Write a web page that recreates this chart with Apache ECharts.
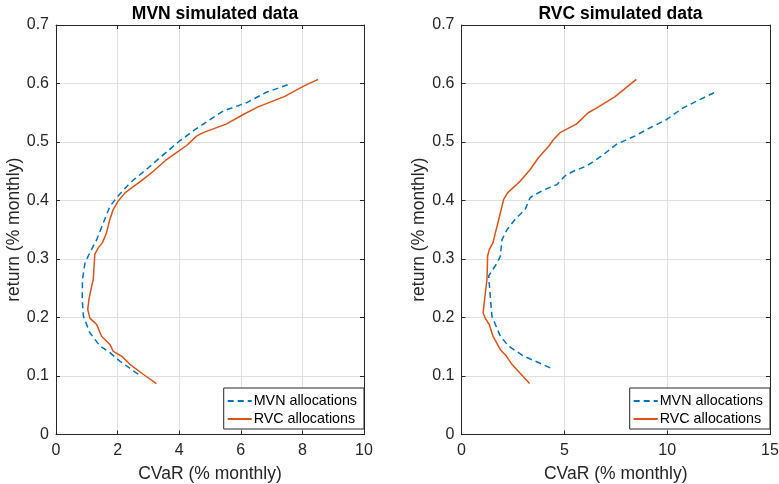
<!DOCTYPE html>
<html>
<head>
<meta charset="utf-8">
<script src="https://cdn.jsdelivr.net/npm/echarts@6/dist/echarts.min.js"></script>
<style>html,body{margin:0;padding:0;background:#fff}#c{width:779px;height:484px}</style>
</head>
<body>
<div id="c"></div>
<script>
// Left panel: MVN simulated data
var mvnLeftCvar = [2.67, 2.08, 1.75, 1.43, 1.10, 0.89, 0.85, 0.86, 0.94, 1.10, 1.32, 1.54, 1.75, 1.97, 2.40, 3.00, 3.37, 3.97, 4.51, 5.43, 6.18, 6.83, 7.64];
var mvnLeftRet  = [0.103, 0.125, 0.140, 0.151, 0.174, 0.202, 0.231, 0.265, 0.293, 0.311, 0.333, 0.362, 0.390, 0.405, 0.430, 0.456, 0.473, 0.500, 0.521, 0.553, 0.567, 0.585, 0.600];
var rvcLeftCvar = [3.26, 2.83, 2.40, 2.13, 1.86, 1.75, 1.48, 1.32, 1.10, 1.03, 1.07, 1.16, 1.21, 1.26, 1.37, 1.51, 1.64, 1.75, 1.86, 2.02, 2.24, 2.83, 3.16, 3.59, 3.97, 4.24, 4.56, 4.78, 5.54, 6.08, 6.56, 7.43, 8.02, 8.51];
var rvcLeftRet  = [0.087, 0.103, 0.120, 0.134, 0.142, 0.154, 0.168, 0.188, 0.199, 0.214, 0.231, 0.254, 0.265, 0.308, 0.319, 0.328, 0.345, 0.368, 0.385, 0.399, 0.413, 0.436, 0.450, 0.470, 0.484, 0.494, 0.510, 0.516, 0.531, 0.547, 0.560, 0.578, 0.595, 0.607];
// Right panel: RVC simulated data
var mvnRightCvar = [4.31, 3.74, 3.02, 2.29, 1.89, 1.48, 1.40, 1.32, 1.73, 1.89, 1.97, 2.21, 2.61, 3.10, 3.34, 3.58, 4.06, 4.63, 5.03, 5.44, 6.08, 6.81, 7.53, 8.42, 9.15, 9.95, 10.76, 11.73, 12.45];
var mvnRightRet  = [0.114, 0.123, 0.134, 0.151, 0.168, 0.202, 0.236, 0.271, 0.293, 0.305, 0.333, 0.350, 0.368, 0.385, 0.405, 0.410, 0.419, 0.427, 0.442, 0.450, 0.459, 0.476, 0.496, 0.510, 0.524, 0.538, 0.558, 0.575, 0.587];
var rvcRightCvar = [3.31, 2.45, 2.18, 1.89, 1.53, 1.35, 1.15, 1.05, 1.16, 1.24, 1.27, 1.35, 1.53, 1.65, 1.85, 2.05, 2.24, 2.85, 3.34, 3.74, 4.27, 4.47, 4.79, 5.60, 6.16, 6.56, 7.45, 8.50];
var rvcRightRet  = [0.087, 0.120, 0.134, 0.145, 0.168, 0.188, 0.199, 0.208, 0.242, 0.265, 0.305, 0.316, 0.328, 0.345, 0.373, 0.402, 0.413, 0.433, 0.453, 0.473, 0.494, 0.504, 0.516, 0.531, 0.550, 0.558, 0.577, 0.607];

var titles = ['MVN simulated data', 'RVC simulated data'];
var seriesNames = ['MVN allocations', 'RVC allocations'];
var xAxisName = 'CVaR (% monthly)';
var yAxisName = 'return (% monthly)';
var xMax = [10, 15];
var xInterval = [2, 5];

function pairs(xs, ys) { return xs.map(function (x, i) { return [x, ys[i]]; }); }

var FONT = '"Liberation Sans", Arial, Helvetica, sans-serif';
var AX = '#262626';
var GRIDC = '#dfdfdf';
var BLUE = '#0072BD';
var ORANGE = '#D95319';

var grids = [
  { left: 56, top: 25, width: 308, height: 409.5, containLabel: false, outerBoundsMode: 'none' },
  { left: 461.5, top: 25, width: 308.5, height: 409.5, containLabel: false, outerBoundsMode: 'none' }
];

var xAxes = [], yAxes = [];
[0, 1].forEach(function (g) {
  xAxes.push({
    type: 'value', gridIndex: g, min: 0, max: xMax[g], interval: xInterval[g], position: 'bottom',
    name: xAxisName, nameLocation: 'middle', nameGap: 31,
    nameTextStyle: { fontFamily: FONT, fontSize: 17.5, color: AX },
    axisLine: { show: true, onZero: false, lineStyle: { color: AX, width: 1 } },
    axisTick: { show: true, inside: true, length: 4, lineStyle: { color: AX } },
    axisLabel: { fontFamily: FONT, fontSize: 16, color: AX, margin: 8 },
    splitLine: { show: true, lineStyle: { color: GRIDC, width: 1 } }
  });
  xAxes.push({
    type: 'value', gridIndex: g, min: 0, max: xMax[g], interval: xInterval[g], position: 'top',
    axisLine: { show: true, onZero: false, lineStyle: { color: AX, width: 1 } },
    axisTick: { show: true, inside: true, length: 4, lineStyle: { color: AX } },
    axisLabel: { show: false }, splitLine: { show: false }
  });
  yAxes.push({
    type: 'value', gridIndex: g, min: 0, max: 0.7, interval: 0.1, position: 'left',
    name: yAxisName, nameLocation: 'middle', nameGap: 28,
    nameTextStyle: { fontFamily: FONT, fontSize: 17.5, color: AX },
    axisLine: { show: true, onZero: false, lineStyle: { color: AX, width: 1 } },
    axisTick: { show: true, inside: true, length: 4, lineStyle: { color: AX } },
    axisLabel: { fontFamily: FONT, fontSize: 16, color: AX, margin: 7 },
    splitLine: { show: true, lineStyle: { color: GRIDC, width: 1 } }
  });
  yAxes.push({
    type: 'value', gridIndex: g, min: 0, max: 0.7, interval: 0.1, position: 'right',
    axisLine: { show: true, onZero: false, lineStyle: { color: AX, width: 1 } },
    axisTick: { show: true, inside: true, length: 4, lineStyle: { color: AX } },
    axisLabel: { show: false }, splitLine: { show: false }
  });
});

function lineSeries(name, data, g, dashed, color) {
  return {
    name: name, type: 'line', xAxisIndex: g * 2, yAxisIndex: g * 2, data: data,
    showSymbol: false, symbol: 'none', smooth: false, animation: false,
    lineStyle: { color: color, width: 1.5, type: dashed ? [6, 4] : 'solid' },
    itemStyle: { color: color }
  };
}

var series = [
  lineSeries(seriesNames[0], pairs(mvnLeftCvar, mvnLeftRet), 0, true, BLUE),
  lineSeries(seriesNames[1], pairs(rvcLeftCvar, rvcLeftRet), 0, false, ORANGE),
  lineSeries(seriesNames[0], pairs(mvnRightCvar, mvnRightRet), 1, true, BLUE),
  lineSeries(seriesNames[1], pairs(rvcRightCvar, rvcRightRet), 1, false, ORANGE)
];

function legendAt(right) {
  return {
    data: seriesNames,
    orient: 'vertical', right: right, top: 388,
    itemWidth: 24, itemHeight: 14, itemGap: 4, padding: [6, 7, 3, 3],
    borderColor: AX, borderWidth: 1, backgroundColor: '#fff',
    selectedMode: false,
    itemStyle: { opacity: 0 },
    textStyle: { fontFamily: FONT, fontSize: 14.3, color: '#000', padding: [0, 0, 0, -3] }
  };
}

var chart = echarts.init(document.getElementById('c'), null, { renderer: 'canvas' });
chart.setOption({
  animation: false,
  backgroundColor: '#fff',
  title: [
    { text: titles[0], left: 210, top: 0, textAlign: 'center', textStyle: { fontFamily: FONT, fontSize: 17.5, fontWeight: 'bold', color: '#000' } },
    { text: titles[1], left: 615.5, top: 0, textAlign: 'center', textStyle: { fontFamily: FONT, fontSize: 17.5, fontWeight: 'bold', color: '#000' } }
  ],
  grid: grids,
  xAxis: xAxes,
  yAxis: yAxes,
  legend: [legendAt(415), legendAt(9)],
  series: series
});
</script>
</body>
</html>
